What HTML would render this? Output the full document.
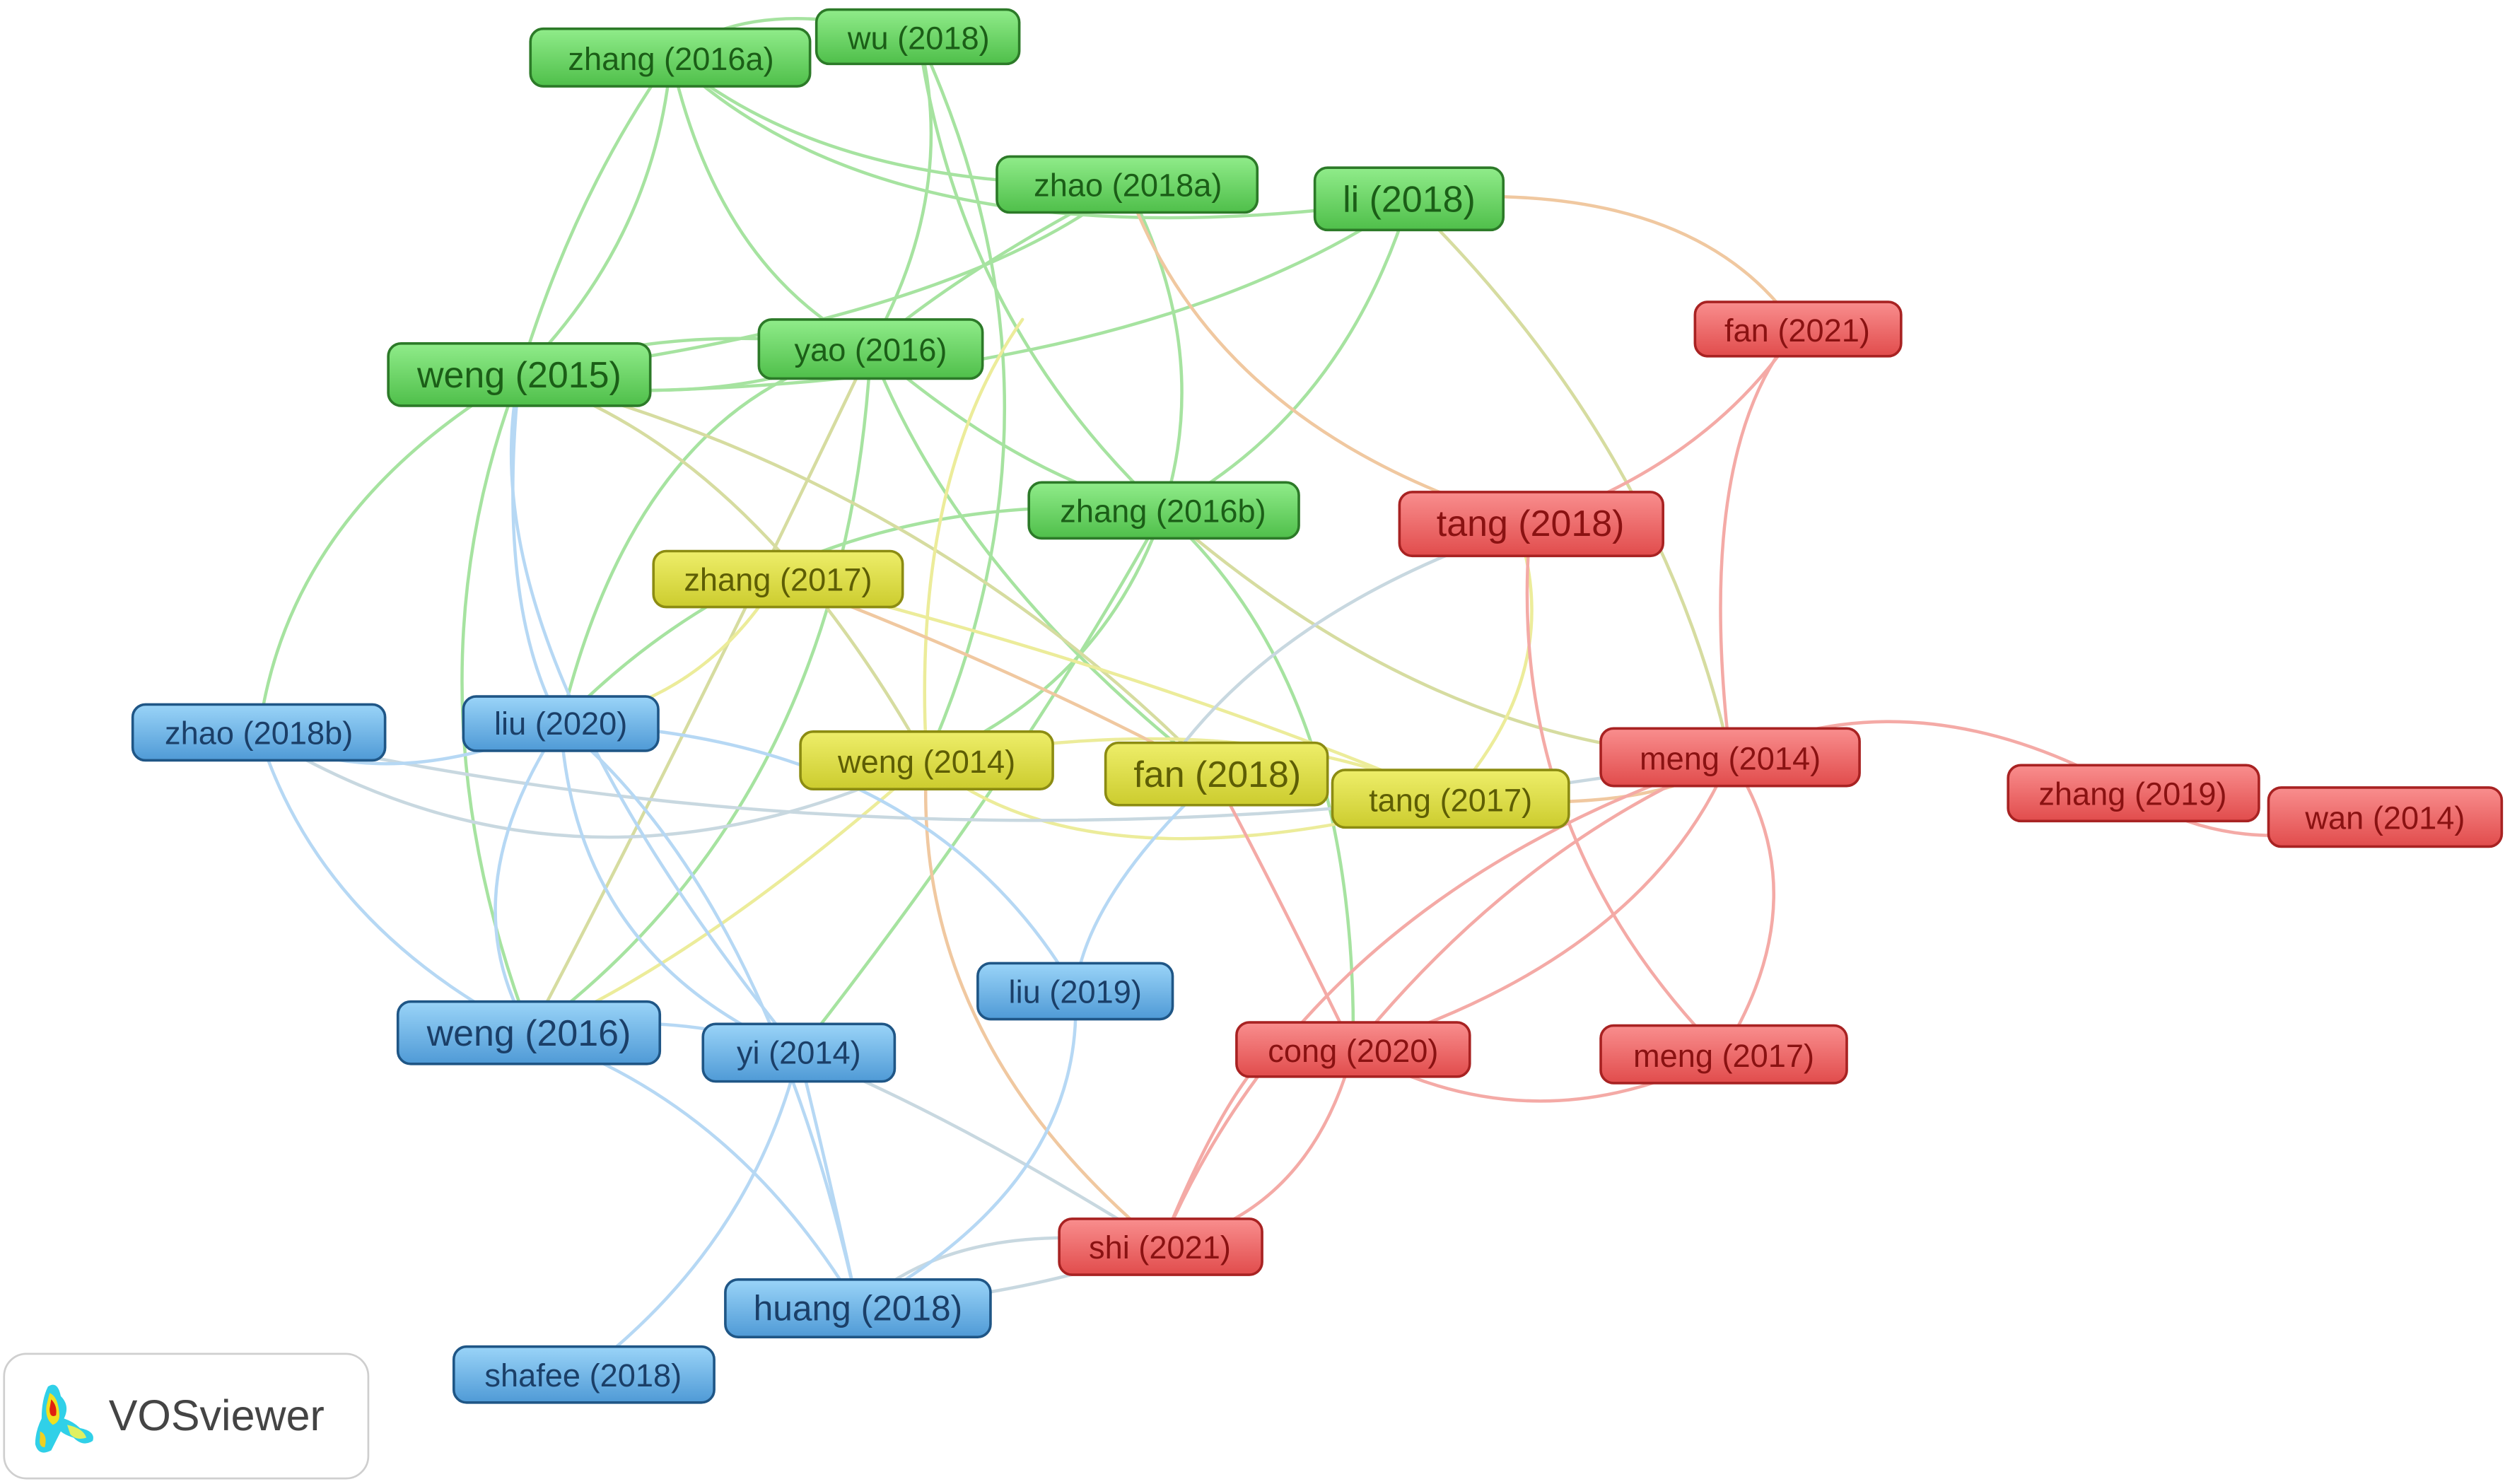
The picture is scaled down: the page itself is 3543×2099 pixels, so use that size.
<!DOCTYPE html>
<html><head><meta charset="utf-8"><style>
html,body{margin:0;padding:0;background:#fff;}
svg{display:block;}
text{font-family:"Liberation Sans",sans-serif;}
</style></head><body>
<svg width="3543" height="2099" viewBox="0 0 1568 929" xmlns="http://www.w3.org/2000/svg">
<defs>
<linearGradient id="gG" x1="0" y1="0" x2="0" y2="1"><stop offset="0" stop-color="#90ec8a"/><stop offset="1" stop-color="#4fbf4a"/></linearGradient>
<linearGradient id="gY" x1="0" y1="0" x2="0" y2="1"><stop offset="0" stop-color="#eeee6a"/><stop offset="1" stop-color="#cccc2e"/></linearGradient>
<linearGradient id="gR" x1="0" y1="0" x2="0" y2="1"><stop offset="0" stop-color="#f98e8e"/><stop offset="1" stop-color="#e14c4c"/></linearGradient>
<linearGradient id="gB" x1="0" y1="0" x2="0" y2="1"><stop offset="0" stop-color="#9ad4f8"/><stop offset="1" stop-color="#4f9ad6"/></linearGradient>
</defs>
<g fill="none" stroke-width="2" stroke-linecap="round">
<g stroke="#a6e3a0">
<path d="M420 36 Q360 120 325 235"/>
<path d="M420 36 Q410 150 325 235"/>
<path d="M420 36 Q450 170 545 218"/>
<path d="M420 36 Q520 120 705 115"/>
<path d="M420 36 Q560 170 882 125"/>
<path d="M420 36 Q470 -5 575 23"/>
<path d="M575 23 Q600 120 545 218"/>
<path d="M575 23 Q600 200 728 320"/>
<path d="M575 23 Q680 250 580 476"/>
<path d="M705 115 Q600 200 325 235"/>
<path d="M705 115 Q600 170 545 218"/>
<path d="M705 115 Q760 220 728 320"/>
<path d="M882 125 Q700 250 325 245"/>
<path d="M882 125 Q840 260 728 320"/>
<path d="M325 235 Q420 200 545 218"/>
<path d="M325 235 Q440 260 545 218"/>
<path d="M325 235 Q250 430 332 647"/>
<path d="M325 235 Q180 320 162 459"/>
<path d="M545 218 Q530 500 332 647"/>
<path d="M545 218 Q400 250 351 453"/>
<path d="M545 218 Q640 300 728 320"/>
<path d="M728 320 Q640 480 500 659"/>
<path d="M728 320 Q850 430 847 657"/>
<path d="M728 320 Q690 430 580 476"/>
<path d="M728 320 Q500 300 351 453"/>
<path d="M545 218 Q600 360 760 485"/>
</g>
<g stroke="#d6dca0">
<path d="M882 125 Q1040 280 1083 474"/>
<path d="M728 320 Q900 470 1083 474"/>
<path d="M325 235 Q470 280 580 476"/>
<path d="M325 235 Q580 300 760 485"/>
<path d="M545 218 Q420 480 332 647"/>
</g>
<g stroke="#ecec9a">
<path d="M487 362 Q440 440 351 453"/>
<path d="M487 362 Q720 420 908 500"/>
<path d="M580 476 Q680 560 908 500"/>
<path d="M580 476 Q570 300 640 200"/>
<path d="M580 476 Q440 600 332 647"/>
<path d="M580 476 Q780 440 908 500"/>
<path d="M908 500 Q980 420 950 330"/>
</g>
<g stroke="#f0c8a0">
<path d="M882 125 Q1060 110 1125 206"/>
<path d="M705 115 Q760 270 958 328"/>
<path d="M580 476 Q570 650 727 780"/>
<path d="M487 362 Q640 420 760 485"/>
<path d="M908 500 Q1040 510 1083 474"/>
</g>
<g stroke="#c8d8e0">
<path d="M162 459 Q360 580 580 476"/>
<path d="M162 459 Q600 560 1083 474"/>
<path d="M958 328 Q800 380 730 480"/>
<path d="M727 780 Q600 700 500 659"/>
<path d="M537 819 Q600 760 727 780"/>
<path d="M537 819 Q650 810 727 780"/>
</g>
<g stroke="#b6d8f4">
<path d="M162 459 Q200 580 332 647"/>
<path d="M162 459 Q240 500 351 453"/>
<path d="M351 453 Q280 560 332 647"/>
<path d="M351 453 Q360 600 500 659"/>
<path d="M351 453 Q480 560 537 819"/>
<path d="M351 453 Q580 460 673 620"/>
<path d="M325 235 Q290 400 500 659"/>
<path d="M325 235 Q310 380 351 453"/>
<path d="M332 647 Q460 690 537 819"/>
<path d="M332 647 Q420 630 500 659"/>
<path d="M500 659 Q520 740 537 819"/>
<path d="M500 659 Q470 780 365 860"/>
<path d="M537 819 Q680 740 673 620"/>
<path d="M762 484 Q680 560 673 620"/>
</g>
<g stroke="#f4aaa6">
<path d="M1125 206 Q1060 280 1083 474"/>
<path d="M1125 206 Q1070 290 958 328"/>
<path d="M958 328 Q940 520 1078 660"/>
<path d="M1083 474 Q950 530 847 657"/>
<path d="M1083 474 Q1030 600 847 657"/>
<path d="M1083 474 Q1140 560 1078 660"/>
<path d="M1083 474 Q1200 420 1335 497"/>
<path d="M1335 497 Q1400 540 1493 512"/>
<path d="M847 657 Q960 720 1078 660"/>
<path d="M847 657 Q820 760 727 780"/>
<path d="M727 780 Q820 560 1083 474"/>
<path d="M727 780 Q800 600 847 657"/>
<path d="M760 485 Q800 560 847 657"/>
</g>
</g>
<g stroke-width="1.6" font-size="20" text-anchor="middle" dominant-baseline="central">
<g fill="url(#gG)" stroke="#2c7a28"><rect x="332" y="18" width="175" height="36" rx="8"/><rect x="511" y="6" width="127" height="34" rx="8"/><rect x="624" y="98" width="163" height="35" rx="8"/><rect x="823" y="105" width="118" height="39" rx="8"/><rect x="243" y="215" width="164" height="39" rx="8"/><rect x="475" y="200" width="140" height="37" rx="8"/><rect x="644" y="302" width="169" height="35" rx="8"/></g>
<g fill="#1b5e17" stroke="none"><text x="420" y="37">zhang (2016a)</text><text x="575" y="24">wu (2018)</text><text x="706" y="116">zhao (2018a)</text><text x="882" y="125" font-size="23">li (2018)</text><text x="325" y="235" font-size="23">weng (2015)</text><text x="545" y="219">yao (2016)</text><text x="728" y="320">zhang (2016b)</text></g>
<g fill="url(#gY)" stroke="#8c8c12"><rect x="409" y="345" width="156" height="35" rx="8"/><rect x="501" y="458" width="158" height="36" rx="8"/><rect x="692" y="465" width="139" height="39" rx="8"/><rect x="834" y="482" width="148" height="36" rx="8"/></g>
<g fill="#5e5e05" stroke="none"><text x="487" y="363">zhang (2017)</text><text x="580" y="477">weng (2014)</text><text x="762" y="485" font-size="23">fan (2018)</text><text x="908" y="501">tang (2017)</text></g>
<g fill="url(#gR)" stroke="#a82222"><rect x="1061" y="189" width="129" height="34" rx="8"/><rect x="876" y="308" width="165" height="40" rx="8"/><rect x="1002" y="456" width="162" height="36" rx="8"/><rect x="1257" y="479" width="157" height="35" rx="8"/><rect x="1420" y="493" width="146" height="37" rx="8"/><rect x="774" y="640" width="146" height="34" rx="8"/><rect x="1002" y="642" width="154" height="36" rx="8"/><rect x="663" y="763" width="127" height="35" rx="8"/></g>
<g fill="#8a1212" stroke="none"><text x="1125" y="207">fan (2021)</text><text x="958" y="328" font-size="23">tang (2018)</text><text x="1083" y="475">meng (2014)</text><text x="1335" y="497">zhang (2019)</text><text x="1493" y="512">wan (2014)</text><text x="847" y="658">cong (2020)</text><text x="1079" y="661">meng (2017)</text><text x="726" y="781">shi (2021)</text></g>
<g fill="url(#gB)" stroke="#1f5686"><rect x="83" y="441" width="158" height="35" rx="8"/><rect x="290" y="436" width="122" height="34" rx="8"/><rect x="612" y="603" width="122" height="35" rx="8"/><rect x="249" y="627" width="164" height="39" rx="8"/><rect x="440" y="641" width="120" height="36" rx="8"/><rect x="454" y="801" width="166" height="36" rx="8"/><rect x="284" y="843" width="163" height="35" rx="8"/></g>
<g fill="#1b3f68" stroke="none"><text x="162" y="459">zhao (2018b)</text><text x="351" y="453">liu (2020)</text><text x="673" y="621">liu (2019)</text><text x="331" y="647" font-size="23">weng (2016)</text><text x="500" y="659">yi (2014)</text><text x="537" y="819" font-size="22">huang (2018)</text><text x="365" y="861">shafee (2018)</text></g>
</g>
<rect x="2.5" y="847.5" width="228" height="78" rx="14" fill="#fff" stroke="#cfcfcf" stroke-width="1.2"/>
<g>
<path d="M30 868 Q36 864 38 874 Q44 880 40 888 Q46 890 50 894 Q60 896 58 902 Q52 906 46 900 Q40 898 38 896 Q34 904 32 908 Q24 912 22 904 Q22 896 26 888 Q26 876 30 868Z" fill="#30d0e8"/>
<path d="M31 872 Q36 874 37 884 Q38 890 33 892 Q28 888 29 880Z" fill="#f0e020"/>
<path d="M32 876 Q36 880 35 886 Q31 888 31 882Z" fill="#e02010"/>
<path d="M42 892 Q52 894 54 900 Q48 902 44 898Z" fill="#e0f060"/>
<path d="M25 896 Q30 898 28 906 Q24 906 25 900Z" fill="#f0d020"/>
</g>
<text x="68" y="886" font-size="27" fill="#444" dominant-baseline="central">VOSviewer</text>
</svg>
</body></html>
